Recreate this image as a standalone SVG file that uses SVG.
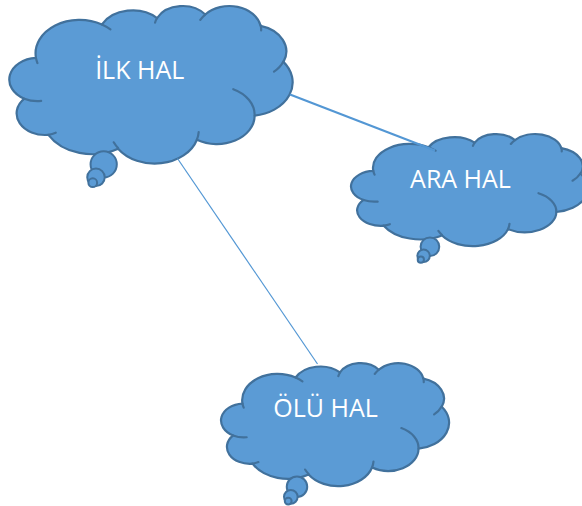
<svg xmlns="http://www.w3.org/2000/svg" width="582" height="506" viewBox="0 0 582 506">
<style>
.body{fill:#5B9BD5;stroke:#41719C;stroke-width:2.2;vector-effect:non-scaling-stroke;stroke-linejoin:round}
.inner{fill:none;stroke:#41719C;stroke-width:2.2;vector-effect:non-scaling-stroke;stroke-linecap:round}
.tail{fill:#5B9BD5;stroke:#41719C;stroke-width:2}
.lbl{fill:#FFFFFF;font-family:"Open Sans","Liberation Sans",sans-serif;font-size:25px;text-anchor:middle}
.conn{stroke:#5397D4;fill:none}
</style>

<g id="ilk-hal">
  <path class="body" transform="translate(10.5,5.5) scale(0.0065278,0.0036458)" d="M3900,14370 A6753,9190 0 0 1 14005,5203 A5333,7267 0 0 1 22456,3433 A4365,5945 0 0 1 29832,2479 A4857,6595 0 0 1 38317,5574 A5333,7273 0 0 1 41818,15458 A6775,9220 0 0 1 37406,30205 A5785,7867 0 0 1 28557,36815 A6752,9215 0 0 1 16483,39268 A7720,10543 0 0 1 5806,35473 A4360,5918 0 0 1 2116,25549 A4345,5945 0 0 1 3900,14370 Z"/>
  <circle class="tail" cx="103.69" cy="164.37" r="13.125"/>
  <circle class="tail" cx="95.98" cy="177.29" r="8.75"/>
  <circle class="tail" cx="92.75" cy="182.69" r="4.375"/>
  <path class="inner" transform="translate(10.5,5.5) scale(0.0065278,0.0036458)" d="M4693,26177 A4345,5945 0 0 1 2116,25549 M6928,34899 A4360,5918 0 0 1 5806,35473 M16478,39090 A6752,9215 0 0 1 15813,37525 M28827,34751 A6752,9215 0 0 1 28557,36815 M34129,22954 A5785,7867 0 0 1 37406,30205 M41798,15354 A5333,7273 0 0 1 40370,18134 M38324,5426 A4857,6595 0 0 1 38394,6838 M29078,3952 A4857,6595 0 0 1 29832,2479 M22141,4720 A4365,5945 0 0 1 22456,3433 M14000,5192 A6753,9190 0 0 1 15307,6553 M4127,15789 A6753,9190 0 0 1 3900,14370"/>
  <text class="lbl" x="139.7" y="79">İLK HAL</text>
</g>

<g id="ara-hal">
  <path class="body" transform="translate(352,133.7) scale(0.0054630,0.0025926)" d="M3900,14370 A6753,9190 0 0 1 14005,5203 A5333,7267 0 0 1 22456,3433 A4365,5945 0 0 1 29832,2479 A4857,6595 0 0 1 38317,5574 A5333,7273 0 0 1 41818,15458 A6775,9220 0 0 1 37406,30205 A5785,7867 0 0 1 28557,36815 A6752,9215 0 0 1 16483,39268 A7720,10543 0 0 1 5806,35473 A4360,5918 0 0 1 2116,25549 A4345,5945 0 0 1 3900,14370 Z"/>
  <circle class="tail" cx="429.93" cy="246.76" r="9.33"/>
  <circle class="tail" cx="423.59" cy="255.77" r="6.22"/>
  <circle class="tail" cx="420.83" cy="259.7" r="3.11"/>
  <path class="inner" transform="translate(352,133.7) scale(0.0054630,0.0025926)" d="M4693,26177 A4345,5945 0 0 1 2116,25549 M6928,34899 A4360,5918 0 0 1 5806,35473 M16478,39090 A6752,9215 0 0 1 15813,37525 M28827,34751 A6752,9215 0 0 1 28557,36815 M34129,22954 A5785,7867 0 0 1 37406,30205 M41798,15354 A5333,7273 0 0 1 40370,18134 M38324,5426 A4857,6595 0 0 1 38394,6838 M29078,3952 A4857,6595 0 0 1 29832,2479 M22141,4720 A4365,5945 0 0 1 22456,3433 M14000,5192 A6753,9190 0 0 1 15307,6553 M4127,15789 A6753,9190 0 0 1 3900,14370"/>
  <text class="lbl" x="460.5" y="188.3">ARA HAL</text>
</g>

<g id="olu-hal">
  <path class="body" transform="translate(222,362.7) scale(0.0052546,0.0028472)" d="M3900,14370 A6753,9190 0 0 1 14005,5203 A5333,7267 0 0 1 22456,3433 A4365,5945 0 0 1 29832,2479 A4857,6595 0 0 1 38317,5574 A5333,7273 0 0 1 41818,15458 A6775,9220 0 0 1 37406,30205 A5785,7867 0 0 1 28557,36815 A6752,9215 0 0 1 16483,39268 A7720,10543 0 0 1 5806,35473 A4360,5918 0 0 1 2116,25549 A4345,5945 0 0 1 3900,14370 Z"/>
  <circle class="tail" cx="296.99" cy="486.78" r="10.25"/>
  <circle class="tail" cx="290.82" cy="496.84" r="6.83"/>
  <circle class="tail" cx="288.21" cy="501.08" r="3.42"/>
  <path class="inner" transform="translate(222,362.7) scale(0.0052546,0.0028472)" d="M4693,26177 A4345,5945 0 0 1 2116,25549 M6928,34899 A4360,5918 0 0 1 5806,35473 M16478,39090 A6752,9215 0 0 1 15813,37525 M28827,34751 A6752,9215 0 0 1 28557,36815 M34129,22954 A5785,7867 0 0 1 37406,30205 M41798,15354 A5333,7273 0 0 1 40370,18134 M38324,5426 A4857,6595 0 0 1 38394,6838 M29078,3952 A4857,6595 0 0 1 29832,2479 M22141,4720 A4365,5945 0 0 1 22456,3433 M14000,5192 A6753,9190 0 0 1 15307,6553 M4127,15789 A6753,9190 0 0 1 3900,14370"/>
  <text class="lbl" x="325.5" y="416.7">ÖLÜ HAL</text>
</g>

<g id="connectors">
  <line class="conn" x1="290" y1="94.5" x2="435" y2="150.5" stroke-width="2.2"/>
  <line class="conn" x1="177.5" y1="158.5" x2="317.5" y2="364" stroke-width="1.2"/>
</g>
</svg>
